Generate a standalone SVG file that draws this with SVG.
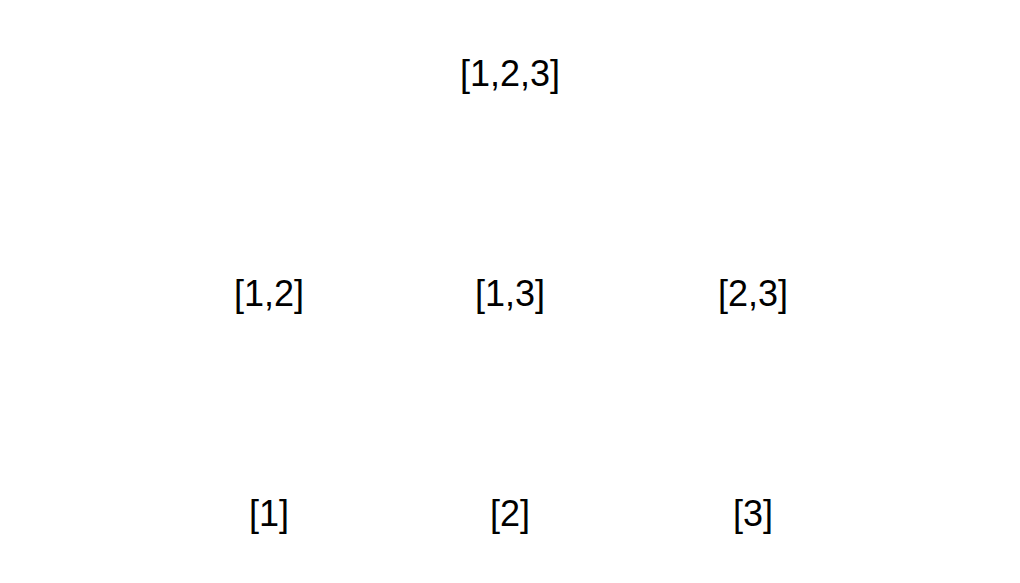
<svg xmlns="http://www.w3.org/2000/svg" width="1020" height="583" viewBox="0 0 1020 583">
<style>
text { font-family: "Liberation Sans", Arial, sans-serif; font-size: 36px; fill: #000; text-anchor: middle; }
</style>
<rect width="1020" height="583" fill="#fff"/>
<g id="connectors"></g>
<g id="n123"><text x="510" y="86">[1,2,3]</text></g>
<g id="n12"><text x="269" y="306">[1,2]</text></g>
<g id="n13"><text x="510" y="306">[1,3]</text></g>
<g id="n23"><text x="753" y="306">[2,3]</text></g>
<g id="n1"><text x="269" y="526">[1]</text></g>
<g id="n2"><text x="510" y="526">[2]</text></g>
<g id="n3"><text x="753" y="526">[3]</text></g>
</svg>
